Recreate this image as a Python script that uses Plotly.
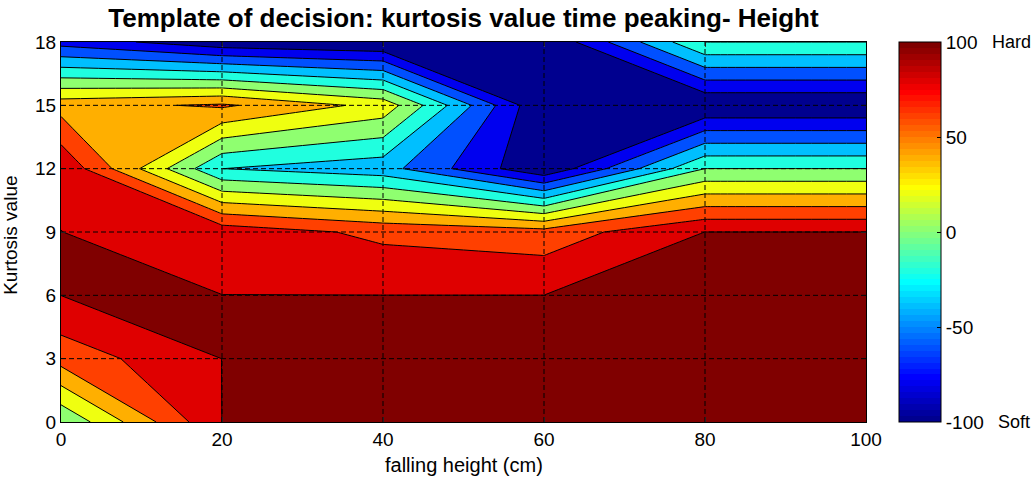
import plotly.graph_objects as go

# ---------------- data ----------------
falling_height = [0, 20, 40, 60, 80, 100]          # x (cm)
kurtosis_value = [0, 3, 6, 9, 12, 15, 18]           # y
# decision value rows (one row per kurtosis value, columns per falling height)
z_k0 = [2, 100, 100, 100, 100, 100]
z_k3 = [68, 100, 100, 100, 100, 100]
z_k6 = [100, 100, 100, 100, 100, 100]
z_k9 = [100, 92, 75, 68, 100, 100]
z_k12 = [97, -20, -32, -98, 0, 0]
z_k15 = [52, 63, 33, -100, -100, -100]
z_k18 = [-68, -94, -100, -100, 0, 0]
decision = [z_k0, z_k3, z_k6, z_k9, z_k12, z_k15, z_k18]

x_ticks = [0, 20, 40, 60, 80, 100]
y_ticks = [0, 3, 6, 9, 12, 15, 18]
cbar_ticks = [-100, -50, 0, 50, 100]
cbar_labels = [str(v) for v in cbar_ticks]

# ---------------- styling ----------------
FONT = "Liberation Sans, Arial, Helvetica, sans-serif"


def jet(m=64):
    n = -(-m // 4)
    u = [(i + 1) / n for i in range(n)] + [1.0] * (n - 1) + [(n - i) / n for i in range(n)]
    g0 = -(-n // 2) - (1 if m % 4 == 1 else 0)
    cols = [[0.0, 0.0, 0.0] for _ in range(m)]
    for j, val in enumerate(u):
        g = g0 + j + 1
        r = g + n
        b = g - n
        if 1 <= r <= m:
            cols[r - 1][0] = val
        if 1 <= g <= m:
            cols[g - 1][1] = val
        if 1 <= b <= m:
            cols[b - 1][2] = val
    return ["rgb(%d,%d,%d)" % tuple(round(c * 255) for c in col) for col in cols]


J = jet(64)
# band colours: MATLAB colours each filled band by its lower level (-100:20:100)
band_idx = [min(int(k / 10 * 64), 63) for k in range(11)]
band_cols = [J[i] for i in band_idx]
fill_scale = [[k / 10, band_cols[k]] for k in range(11)]

# stepped continuous colorbar (64 colours)
cb_scale = []
for i, c in enumerate(J):
    cb_scale.append([i / 64, c])
    cb_scale.append([(i + 1) / 64, c])

fig = go.Figure()
fig.add_trace(go.Contour(
    x=falling_height, y=kurtosis_value, z=decision,
    autocontour=False,
    contours=dict(start=-80.1, end=99.9, size=20, coloring="fill"),
    colorscale=fill_scale,
    line=dict(color="black", width=1, smoothing=0),
    showscale=False, hoverinfo="skip",
))
# colour bar (continuous jet, -100 .. 100)
fig.add_trace(go.Scatter(
    x=[falling_height[0]], y=[kurtosis_value[0]], mode="markers",
    marker=dict(size=1, opacity=0, color=[cbar_ticks[0]], cmin=cbar_ticks[0], cmax=cbar_ticks[-1],
                colorscale=cb_scale, showscale=True,
                colorbar=dict(x=1.041, xanchor="left", y=0.5, yanchor="middle",
                              len=1, lenmode="fraction", thickness=42, thicknessmode="pixels",
                              outlinewidth=1, outlinecolor="black",
                              tickvals=cbar_ticks, ticktext=cbar_labels,
                              ticks="inside", ticklen=4, tickcolor="black",
                              tickfont=dict(family=FONT, size=19, color="black"), xpad=0, ypad=0)),
    hoverinfo="skip", showlegend=False,
))

shapes = []
for xv in x_ticks[1:-1]:
    shapes.append(dict(type="line", xref="x", yref="paper", x0=xv, x1=xv, y0=0, y1=1,
                       line=dict(color="black", width=1, dash="5px,3px"), layer="above"))
for yv in y_ticks[1:-1]:
    shapes.append(dict(type="line", xref="paper", yref="y", x0=0, x1=1, y0=yv, y1=yv,
                       line=dict(color="black", width=1, dash="5px,3px"), layer="above"))

fig.update_layout(
    width=1033, height=477,
    margin=dict(l=61, r=167, t=42, b=55),
    paper_bgcolor="white", plot_bgcolor="white",
    font=dict(family=FONT, size=19, color="black"),
    title=dict(text="<b>Template of decision: kurtosis value time peaking- Height</b>",
               x=0.5, xref="paper", xanchor="center", y=1 - 18 / 477, yref="container",
               yanchor="middle", font=dict(family=FONT, size=26, color="black")),
    xaxis=dict(range=[0, 100], tickvals=x_ticks, ticktext=[str(v) for v in x_ticks],
               ticks="inside", ticklen=5, showline=True,
               mirror="ticks", linecolor="black", linewidth=1, showgrid=False, zeroline=False,
               tickfont=dict(size=19), layer="above traces"),
    yaxis=dict(range=[0, 18], tickvals=y_ticks, ticktext=[str(v) for v in y_ticks],
               ticks="inside", ticklen=5, showline=True,
               mirror="ticks", linecolor="black", linewidth=1, showgrid=False, zeroline=False,
               tickfont=dict(size=19), layer="above traces"),
    shapes=shapes,
    annotations=[
        dict(text="falling height (cm)", xref="paper", yref="paper", x=0.5, y=-43 / 380,
             xanchor="center", yanchor="middle", showarrow=False, font=dict(size=20)),
        dict(text="Kurtosis value", xref="paper", yref="paper", x=-50 / 805, y=0.49,
             xanchor="center", yanchor="middle", textangle=-90, showarrow=False,
             font=dict(size=19)),
        dict(text="Hard", xref="paper", yref="paper", x=1.1545, y=1, xanchor="left",
             yanchor="middle", showarrow=False, font=dict(size=18)),
        dict(text="Soft", xref="paper", yref="paper", x=1.161, y=0, xanchor="left",
             yanchor="middle", showarrow=False, font=dict(size=18)),
    ],
)

fig.write_html("out.html")
